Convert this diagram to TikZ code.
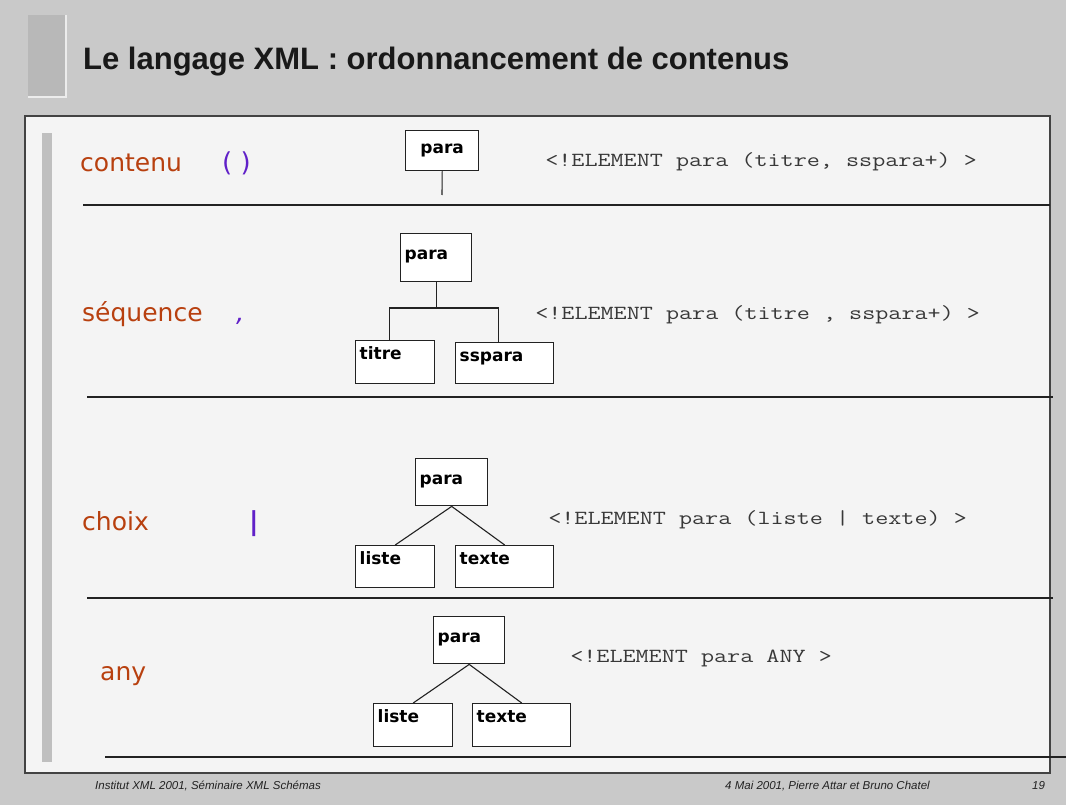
\documentclass[tikz,border=0pt]{standalone}
\usepackage{fontspec}
\setmainfont{Liberation Sans}
\newfontfamily\dejavu{DejaVu Sans}
\definecolor{bgc}{HTML}{C9C9C9}
\definecolor{panelc}{HTML}{F4F4F4}
\definecolor{barc}{HTML}{B8B8B8}
\definecolor{rust}{HTML}{B8400F}
\definecolor{purp}{HTML}{6020C8}
\definecolor{inkc}{HTML}{222222}
\tikzset{
  xbox/.style={draw=inkc, fill=white, line width=1.4pt, anchor=north west, inner xsep=4pt, inner ysep=3pt, align=left, font=\dejavu\bfseries\fontsize{17}{20}\selectfont},
  conn/.style={draw=inkc, line width=1.1pt},
  sep/.style={draw=inkc, line width=1.4pt},
  lbl/.style={anchor=base west, inner sep=0pt, text=rust, font=\dejavu\fontsize{25}{30}\selectfont},
  opr/.style={anchor=base west, inner sep=0pt, text=purp, font=\dejavu\fontsize{26}{30}\selectfont},
  dtd/.style={anchor=base west, inner sep=0pt, text=inkc!90, transform shape, xscale=1.27, font=\ttfamily\fontsize{20}{24}\selectfont},
  foot/.style={anchor=base west, inner sep=0pt, text=inkc, font=\itshape\fontsize{11.5}{13}\selectfont}
}
\begin{document}
\begin{tikzpicture}[x=1pt,y=-1pt]
\useasboundingbox (0,0) rectangle (1066,805);
\fill[bgc] (0,0) rectangle (1066,805);
% title bar
\fill[barc] (28,15) rectangle (66,97);
\draw[white!85!gray, line width=1.5pt] (66,15) -- (66,97) -- (28,97);
\node[anchor=base west, inner sep=0pt, text=black!90, font=\bfseries\fontsize{31}{36}\selectfont] (title) at (83,70) {Le langage XML : ordonnancement de contenus};
% panel
\draw[fill=panelc, draw=inkc!85, line width=2pt] (25,116) rectangle (1050,773);
\fill[barc!90!white] (42,133) rectangle (52,762);
% separators
\draw[sep] (83,205) -- (1050,205);
\draw[sep] (87,397) -- (1053,397);
\draw[sep] (87,598) -- (1053,598);
\draw[sep] (105,757) -- (1066,757);
% labels
\node[lbl] (lcont) at (80,172) {contenu};
\node[opr] (ocont) at (222,172) {( )};
\node[lbl] (lseq) at (82,321) {séquence};
\node[opr] (oseq) at (236,321) {\itshape ,};
\node[lbl] (lcho) at (82,530) {choix};
\node[opr] (ocho) at (249,530) {\bfseries |};
\node[lbl] (lany) at (100,680) {any};
% DTD texts
\node[dtd] (d1) at (545,167) {<!ELEMENT para (titre, sspara+) >};
\node[dtd] (d2) at (535,319) {<!ELEMENT para (titre , sspara+) >};
\node[dtd] (d3) at (548,524) {<!ELEMENT para (liste | texte) >};
\node[dtd] (d4) at (570,662) {<!ELEMENT para ANY >};
% tree 1
\node[xbox, align=center, text width=65pt, text height=20pt, text depth=14pt] (p1) at (405,130) {para};
\coordinate (c1) at (442,195);
\draw[conn] (p1.south) -- (c1);
% tree 2
\node[xbox, text width=63pt, text height=23pt, text depth=19pt] (p2) at (400,233) {para};
\node[xbox, text width=71pt, text height=16pt, text depth=21pt] (t2) at (355,340) {titre};
\node[xbox, text width=90pt, text height=16pt, text depth=19pt] (s2) at (455,342) {sspara};
\coordinate (j2) at (p2.south |- 0,308);
\draw[conn] (p2.south) -- (j2);
\draw[conn] (j2) -| ([xshift=-6pt]t2.north);
\draw[conn] (j2) -| ([xshift=-6pt]s2.north);
% tree 3
\node[xbox, text width=64pt, text height=23pt, text depth=18pt] (p3) at (415,458) {para};
\node[xbox, text width=71pt, text height=16pt, text depth=20pt] (l3) at (355,545) {liste};
\node[xbox, text width=90pt, text height=16pt, text depth=20pt] (x3) at (455,545) {texte};
\draw[conn] (p3.south) -- (l3.north);
\draw[conn] (p3.south) -- (x3.north);
% tree 4
\node[xbox, text width=63pt, text height=23pt, text depth=18pt] (p4) at (433,616) {para};
\node[xbox, text width=71pt, text height=16pt, text depth=21pt] (l4) at (373,703) {liste};
\node[xbox, text width=90pt, text height=16pt, text depth=21pt] (x4) at (472,703) {texte};
\draw[conn] (p4.south) -- (l4.north);
\draw[conn] (p4.south) -- (x4.north);
% footer
\node[foot] (f1) at (95,789) {Institut XML 2001, Séminaire XML Schémas};
\node[foot] (f2) at (725,789) {4 Mai 2001, Pierre Attar et Bruno Chatel};
\node[foot] (f3) at (1032,789) {19};
\end{tikzpicture}
\end{document}
